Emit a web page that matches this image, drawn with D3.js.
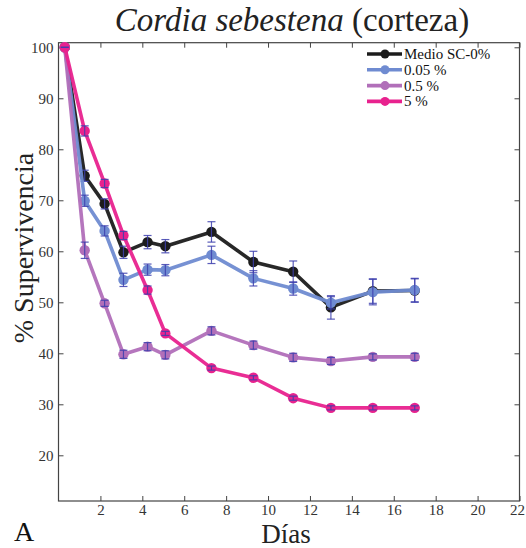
<!DOCTYPE html>
<html><head><meta charset="utf-8">
<script src="https://cdn.jsdelivr.net/npm/d3@7"></script>
<style>body{margin:0;background:#fff}svg{display:block}text{font-family:"Liberation Serif","Times New Roman",serif}</style>
</head><body><svg id="c" width="526" height="548"></svg>
<script>
const days = [0.3, 1.25, 2.2, 3.1, 4.25, 5.1, 7.3, 9.3, 11.2, 13, 15, 17];
const seriesNames = ["Medio SC-0%", "0.05 %", "0.5 %", "5 %"];
const medio = [100, 74.8, 69.3, 59.8, 61.8, 61.0, 63.8, 57.9, 56.0, 49.0, 52.2, 52.3];
const medioErr = [0, 1.1, 1.0, 1.2, 1.3, 1.3, 2.0, 2.1, 2.1, 2.3, 2.4, 2.3];
const p005 = [100, 69.9, 64.0, 54.4, 56.4, 56.3, 59.3, 54.7, 52.7, 49.9, 52.0, 52.4];
const p005Err = [0, 1.1, 1.0, 1.3, 1.1, 1.1, 1.7, 1.5, 1.3, 1.2, 2.5, 2.3];
const p05 = [100, 60.2, 49.8, 39.8, 41.3, 39.7, 44.4, 41.6, 39.2, 38.5, 39.3, 39.3];
const p05Err = [0, 1.6, 0.6, 0.8, 0.8, 0.8, 0.8, 0.8, 0.8, 0.7, 0.6, 0.7];
const p5 = [100, 83.6, 73.3, 63.1, 52.4, 43.9, 37.1, 35.2, 31.2, 29.3, 29.3, 29.3];
const p5Err = [0, 1.0, 0.8, 0.8, 0.8, 0.4, 0.4, 0.4, 0.4, 0.4, 0.4, 0.4];
const colors = ["#1c1c1c", "#6f8bd1", "#b16fb9", "#e8228e"];
const xTicks = [2, 4, 6, 8, 10, 12, 14, 16, 18, 20, 22];
const yTicks = [20, 30, 40, 50, 60, 70, 80, 90, 100];

const svg = d3.select("#c");
const L = 58.5, R = 519.5, T = 42.7, B = 501;
const x = d3.scaleLinear().domain([0, 22]).range([L, R]);
const y = d3.scaleLinear().domain([11.04, 100.9]).range([B, T]);

const series = [
  {name: seriesNames[0], vals: medio, err: medioErr, color: colors[0]},
  {name: seriesNames[1], vals: p005, err: p005Err, color: colors[1]},
  {name: seriesNames[2], vals: p05, err: p05Err, color: colors[2]},
  {name: seriesNames[3], vals: p5, err: p5Err, color: colors[3]}
];

// axes
const axCol = "#444";
function styleAxis(g){ g.select(".domain").remove(); g.selectAll("line").attr("stroke", axCol); g.selectAll("text").attr("fill","#333").style("font-size","15px").style("font-family",'"Liberation Serif",serif'); }
const xb = svg.append("g").attr("transform",`translate(0,${B})`).call(d3.axisBottom(x).tickValues(xTicks).tickSizeInner(-5).tickSizeOuter(0).tickPadding(3)).call(styleAxis);
xb.selectAll(".tick").filter(d=>d===22).select("text").attr("text-anchor","end").attr("dx","5");
svg.append("g").attr("transform",`translate(0,${T})`).call(d3.axisTop(x).tickValues(xTicks).tickSizeInner(-5).tickSizeOuter(0).tickFormat("")).call(styleAxis);
svg.append("g").attr("transform",`translate(${L},0)`).call(d3.axisLeft(y).tickValues(yTicks).tickSizeInner(-5).tickSizeOuter(0).tickPadding(5)).call(styleAxis);
svg.append("g").attr("transform",`translate(${R},0)`).call(d3.axisRight(y).tickValues(yTicks).tickSizeInner(-5).tickSizeOuter(0).tickFormat("")).call(styleAxis);
svg.append("rect").attr("x",L).attr("y",T).attr("width",R-L).attr("height",B-T).attr("fill","none").attr("stroke",axCol).attr("stroke-width",1.2);

const line = d3.line().x((d,i)=>x(days[i])).y(d=>y(d));
series.forEach(s=>{
  const g = svg.append("g");
  g.append("path").datum(s.vals).attr("d",line).attr("fill","none").attr("stroke",s.color).attr("stroke-width",3.6).attr("stroke-linejoin","round").attr("stroke-opacity",0.95);
  g.selectAll("circle").data(s.vals).join("circle").attr("cx",(d,i)=>x(days[i])).attr("cy",d=>y(d)).attr("r",5.2).attr("fill",s.color);
  const eb = g.selectAll("g.eb").data(s.vals).join("g").attr("stroke","#3d3fae").attr("stroke-width",1.2).attr("stroke-opacity",0.85);
  eb.append("line").attr("x1",(d,i)=>x(days[i])).attr("x2",(d,i)=>x(days[i])).attr("y1",(d,i)=>y(d+s.err[i])).attr("y2",(d,i)=>y(d-s.err[i]));
  eb.append("line").attr("x1",(d,i)=>x(days[i])-4).attr("x2",(d,i)=>x(days[i])+4).attr("y1",(d,i)=>y(d+s.err[i])).attr("y2",(d,i)=>y(d+s.err[i]));
  eb.append("line").attr("x1",(d,i)=>x(days[i])-4).attr("x2",(d,i)=>x(days[i])+4).attr("y1",(d,i)=>y(d-s.err[i])).attr("y2",(d,i)=>y(d-s.err[i]));
});

// legend
const lg = svg.append("g");
series.forEach((s,i)=>{
  const yy = 54 + i*15.8;
  lg.append("line").attr("x1",367).attr("x2",402).attr("y1",yy).attr("y2",yy).attr("stroke",s.color).attr("stroke-width",3.6);
  lg.append("circle").attr("cx",385).attr("cy",yy).attr("r",4.5).attr("fill",s.color);
  lg.append("text").attr("x",404).attr("y",yy+5).attr("fill","#111").style("font-size","15px").text(s.name);
});

// titles
const t = svg.append("text").attr("x",292).attr("y",31).attr("text-anchor","middle").attr("fill","#222").style("font-size","33px");
t.append("tspan").style("font-style","italic").text("Cordia sebestena");
t.append("tspan").text(" (corteza)");
svg.append("text").attr("transform","translate(33,248) rotate(-90)").attr("text-anchor","middle").attr("fill","#222").style("font-size","28px").text("% Supervivencia");
svg.append("text").attr("x",286).attr("y",543).attr("text-anchor","middle").attr("fill","#222").style("font-size","27px").text("Días");
svg.append("text").attr("x",14).attr("y",541).attr("fill","#111").style("font-size","28px").text("A");
</script></body></html>
